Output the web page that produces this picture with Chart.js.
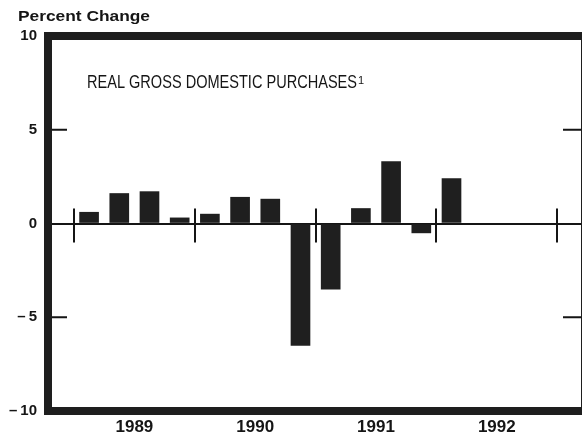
<!DOCTYPE html>
<html lang="en">
<head>
<meta charset="UTF-8">
<title>Real Gross Domestic Purchases</title>
<script src="https://cdn.jsdelivr.net/npm/chart.js"></script>
<style>
  html, body { margin: 0; padding: 0; background: #fff; overflow: hidden; }
  .grafico { position: relative; width: 590px; height: 444px; }
</style>
</head>
<body>
<div class="grafico"><canvas id="grafico_barras"></canvas></div>
<script>
// quarterly percent change, 1989 Q1 .. 1992 Q1
const quarters = ['1989 Q1', '1989 Q2', '1989 Q3', '1989 Q4',
                  '1990 Q1', '1990 Q2', '1990 Q3', '1990 Q4',
                  '1991 Q1', '1991 Q2', '1991 Q3', '1991 Q4',
                  '1992 Q1'];
const changes = [0.6, 1.6, 1.7, 0.3, 0.5, 1.4, 1.3, -6.5, -3.5, 0.8, 3.3, -0.5, 2.4];
const years = ['1989', '1990', '1991', '1992'];
const yTicks = [-10, -5, 0, 5, 10];

const INK = '#151515';

// frame, year marks on the zero line, inner ticks and the texts
const frame = {
  id: 'frame',
  afterDatasetsDraw(chart) {
    const ctx = chart.ctx;
    const a = chart.chartArea;
    const x = chart.scales.x;
    const y = chart.scales.y;
    const y0 = y.getPixelForValue(0);

    ctx.save();
    ctx.strokeStyle = INK;
    ctx.lineWidth = 2;
    ctx.beginPath();
    for (let i = 0; i <= years.length; i++) {
      const px = Math.round(x.getPixelForValue(i * 4));
      ctx.moveTo(px, y0 - 15);
      ctx.lineTo(px, y0 + 19);
    }
    [5, -5].forEach(v => {
      const py = y.getPixelForValue(v);
      ctx.moveTo(a.left, py);
      ctx.lineTo(a.left + 19, py);
      ctx.moveTo(a.right - 22, py);
      ctx.lineTo(a.right, py);
    });
    ctx.stroke();

    ctx.lineWidth = 8;
    ctx.strokeStyle = '#1e1e1e';
    ctx.strokeRect(a.left, a.top, a.right - a.left, a.bottom - a.top);

    ctx.fillStyle = INK;
    ctx.textBaseline = 'alphabetic';
    ctx.textAlign = 'left';

    // "Percent Change" heading
    ctx.font = 'bold 15px "Liberation Sans", Arial, sans-serif';
    let t = 'Percent Change';
    let w = ctx.measureText(t).width;
    ctx.save();
    ctx.translate(18, 21);
    ctx.scale(132 / w, 1);
    ctx.fillText(t, 0, 0);
    ctx.restore();

    // series title, condensed
    ctx.font = '18px "Liberation Sans Narrow", "Liberation Sans", Arial, sans-serif';
    t = 'REAL GROSS DOMESTIC PURCHASES';
    w = ctx.measureText(t).width;
    ctx.save();
    ctx.translate(87, 88);
    ctx.scale(270 / w, 1);
    ctx.fillText(t, 0, 0);
    ctx.restore();
    ctx.font = '11px "Liberation Sans Narrow", "Liberation Sans", Arial, sans-serif';
    ctx.fillText('1', 358, 84);

    ctx.restore();
  }
};

const data_barras = {
  datasets: [{
    label: 'Real gross domestic purchases',
    data: quarters.map((q, i) => ({ x: i + 0.5, y: changes[i] })),
    backgroundColor: '#1f1f1f',
    borderWidth: 0,
    barThickness: 19
  }]
};

const config_barras = {
  type: 'bar',
  data: data_barras,
  plugins: [frame],
  options: {
    responsive: true,
    maintainAspectRatio: false,
    animation: false,
    layout: { padding: { top: 36, right: 5, left: 0, bottom: 0 } },
    plugins: {
      legend: { display: false },
      tooltip: { enabled: false },
      title: { display: false }
    },
    scales: {
      x: {
        type: 'linear',
        offset: false,
        min: -0.86,
        max: 16.92,
        grid: { display: false, drawTicks: false, offset: false },
        border: { display: false },
        afterBuildTicks: s => { s.ticks = years.map((yr, i) => ({ value: i * 4 + 2 })); },
        afterFit: s => { s.height = 33; },
        ticks: {
          autoSkip: false,
          maxRotation: 0,
          padding: 6,
          color: INK,
          font: { family: '"Liberation Sans", Arial, sans-serif', size: 17, weight: 'bold' },
          callback: (v, i) => years[i]
        }
      },
      y: {
        min: -10,
        max: 10,
        afterBuildTicks: s => { s.ticks = yTicks.map(v => ({ value: v })); },
        afterFit: s => { s.width = 48; },
        grid: {
          drawTicks: false,
          lineWidth: 2,
          color: c => (c.tick && c.tick.value === 0 ? INK : 'rgba(0,0,0,0)')
        },
        border: { display: false },
        ticks: {
          padding: 11,
          color: INK,
          font: { family: '"Liberation Sans", Arial, sans-serif', size: 15, weight: 'bold' },
          callback: v => (v < 0 ? '\u2013\u2009' + Math.abs(v) : String(v))
        }
      }
    }
  }
};

const GraficoBarras = new Chart(document.getElementById('grafico_barras'), config_barras);
</script>
</body>
</html>
